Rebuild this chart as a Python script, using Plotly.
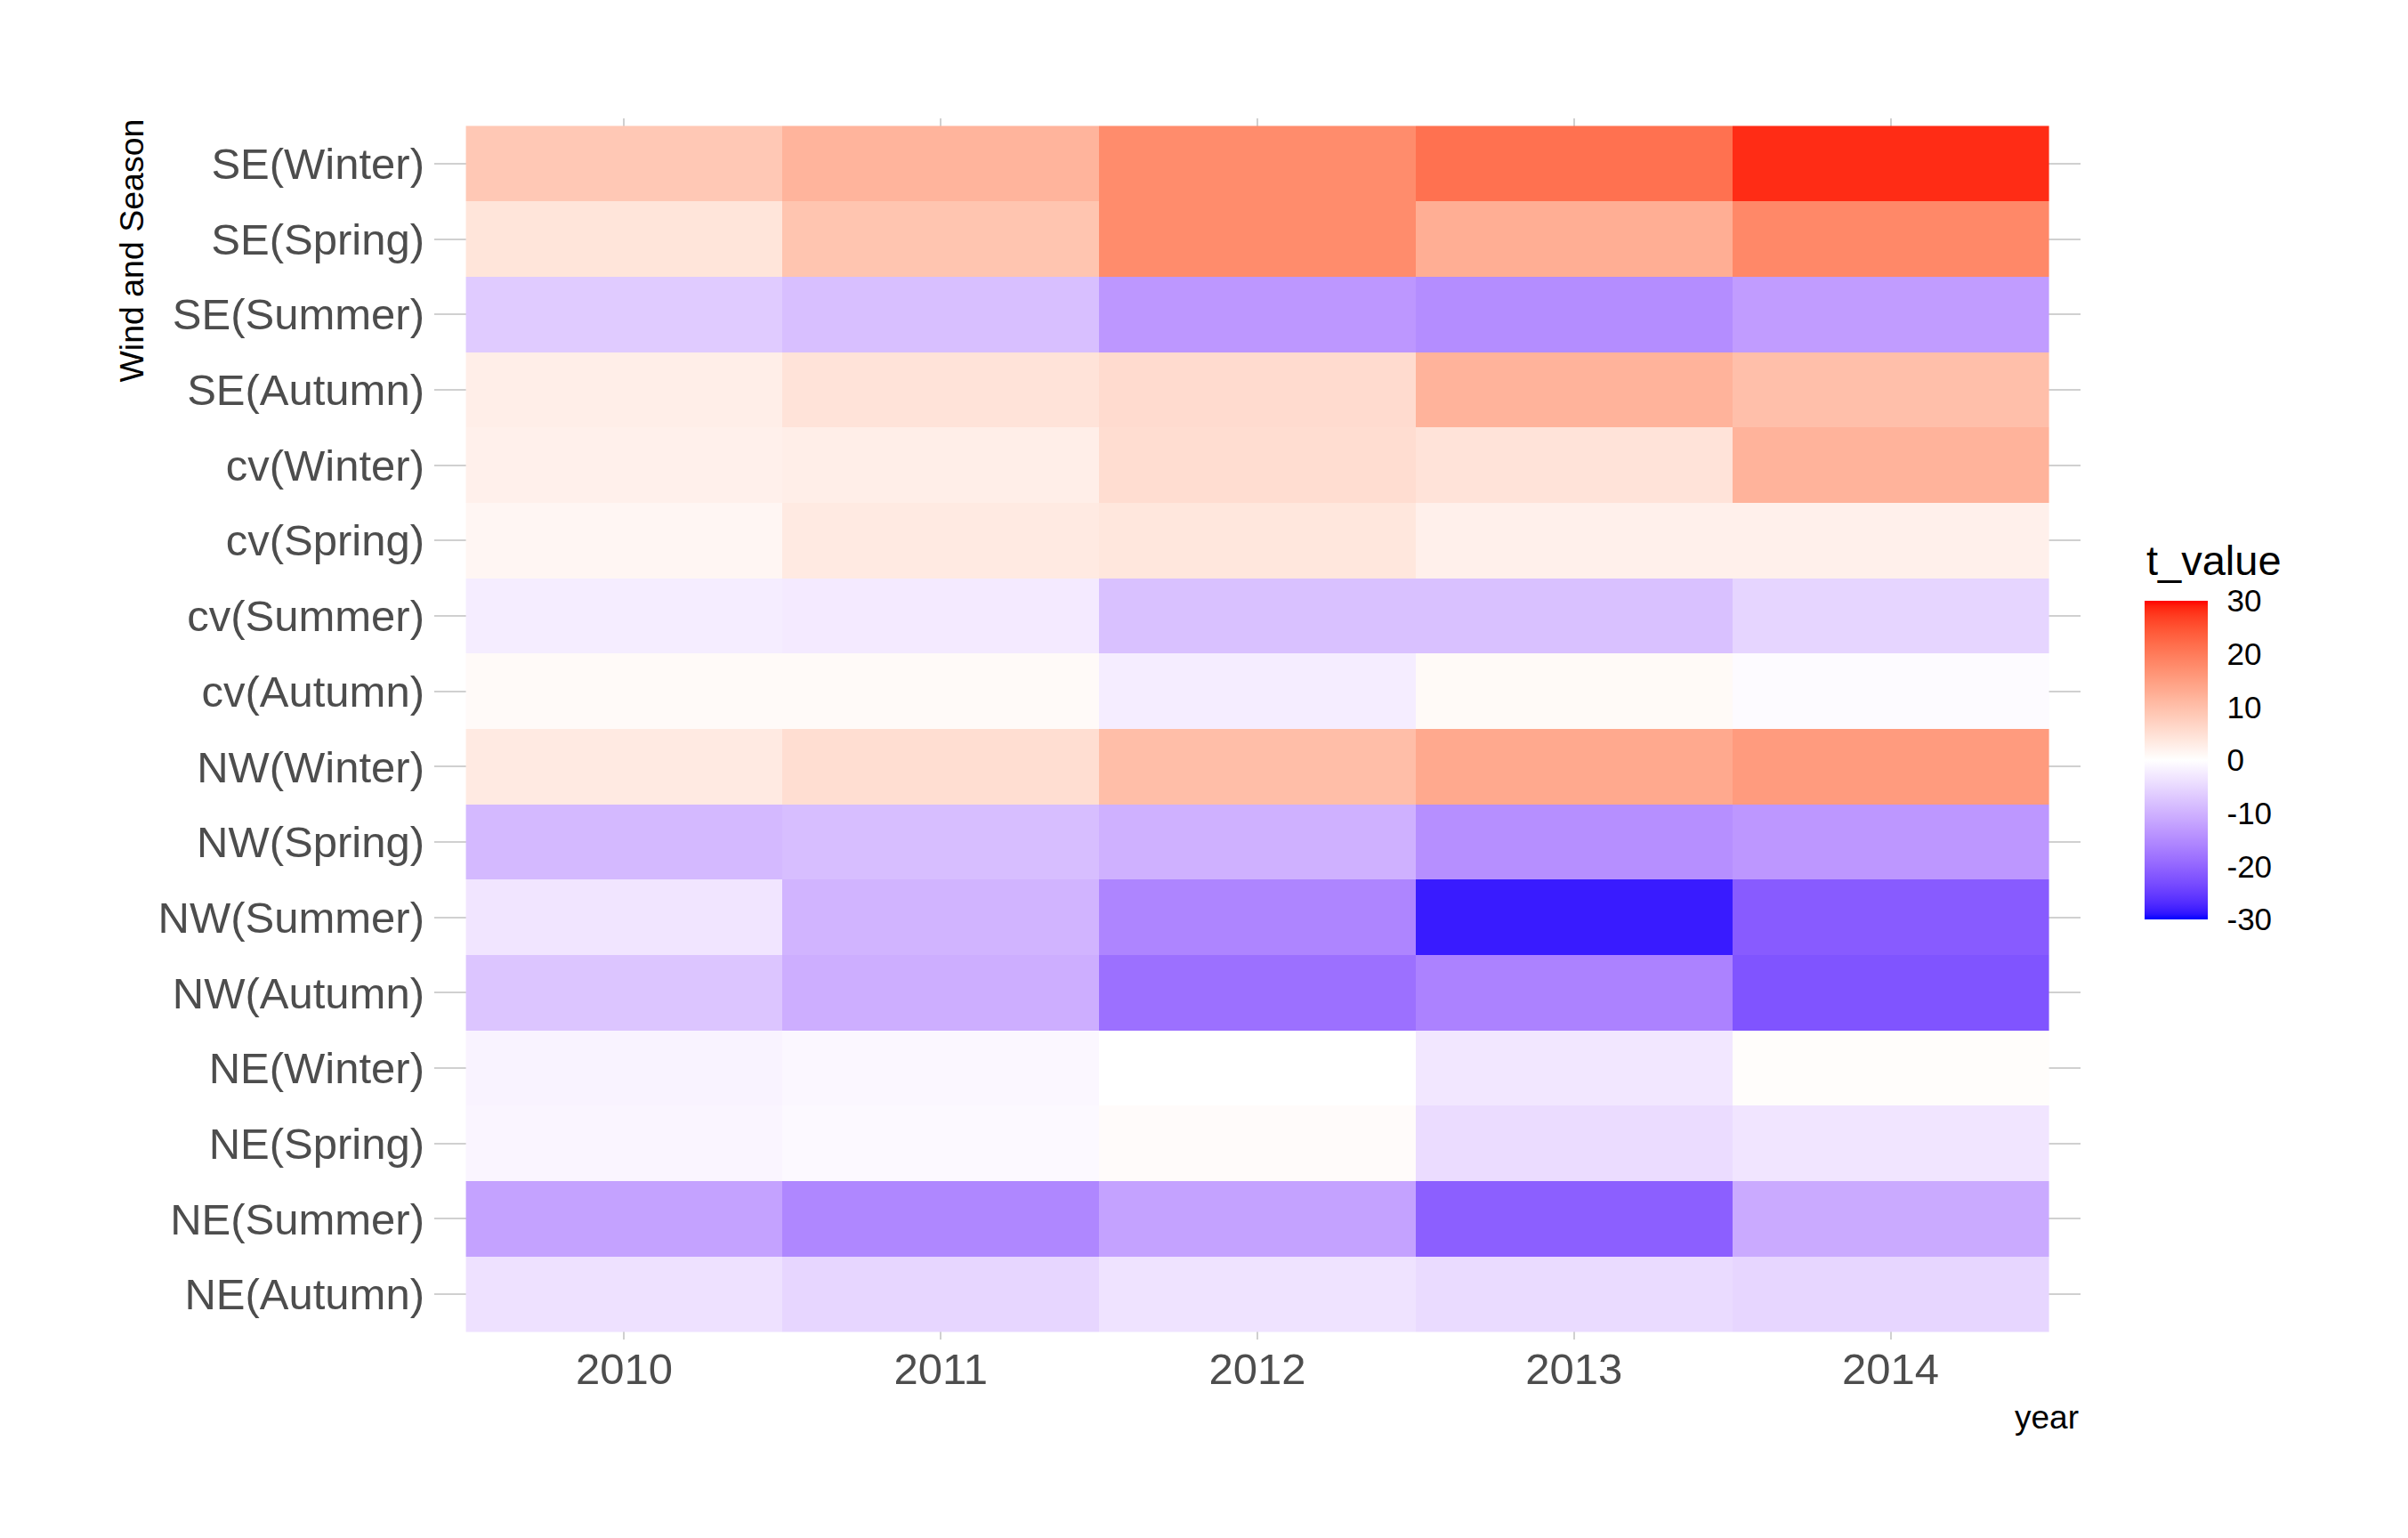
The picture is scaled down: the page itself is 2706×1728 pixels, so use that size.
import plotly.graph_objects as go

years = ["2010", "2011", "2012", "2013", "2014"]
categories = [
    "SE(Winter)", "SE(Spring)", "SE(Summer)", "SE(Autumn)",
    "cv(Winter)", "cv(Spring)", "cv(Summer)", "cv(Autumn)",
    "NW(Winter)", "NW(Spring)", "NW(Summer)", "NW(Autumn)",
    "NE(Winter)", "NE(Spring)", "NE(Summer)", "NE(Autumn)",
]
t_se_winter = [8.6, 11.7, 17.6, 21.3, 28.3]
t_se_spring = [4.2, 9.2, 17.6, 12.6, 18.1]
t_se_summer = [-6.6, -8.2, -13.4, -14.8, -12.7]
t_se_autumn = [2.7, 4.4, 5.6, 11.8, 10.0]
t_cv_winter = [2.3, 2.7, 5.3, 4.4, 11.8]
t_cv_spring = [1.4, 3.3, 3.9, 2.3, 2.3]
t_cv_summer = [-2.2, -2.6, -8.0, -8.0, -5.4]
t_cv_autumn = [0.8, 0.8, -2.2, 0.9, -0.5]
t_nw_winter = [3.3, 5.2, 10.2, 13.4, 15.4]
t_nw_spring = [-9.0, -8.4, -10.0, -14.5, -13.4]
t_nw_summer = [-3.3, -9.6, -15.8, -28.4, -21.2]
t_nw_autumn = [-7.4, -10.4, -18.6, -16.2, -22.2]
t_ne_winter = [-1.5, -1.0, 0.0, -3.0, 0.4]
t_ne_spring = [-1.3, -0.8, 0.6, -4.5, -3.3]
t_ne_summer = [-12.0, -15.6, -12.0, -20.8, -11.0]
t_ne_autumn = [-3.8, -5.2, -3.6, -4.6, -5.2]

z = [
    t_se_winter, t_se_spring, t_se_summer, t_se_autumn,
    t_cv_winter, t_cv_spring, t_cv_summer, t_cv_autumn,
    t_nw_winter, t_nw_spring, t_nw_summer, t_nw_autumn,
    t_ne_winter, t_ne_spring, t_ne_summer, t_ne_autumn,
]
colorbar_ticks = [-30, -20, -10, 0, 10, 20, 30]

# ---- diverging blue-white-red gradient interpolated in CIE Lab (like ggplot2 gradient2)
def srgb_to_lab(rgb):
    def lin(c):
        c = c / 255.0
        return c / 12.92 if c <= 0.04045 else ((c + 0.055) / 1.055) ** 2.4
    r, g, b = (lin(c) for c in rgb)
    X = 0.4124 * r + 0.3576 * g + 0.1805 * b
    Y = 0.2126 * r + 0.7152 * g + 0.0722 * b
    Z = 0.0193 * r + 0.1192 * g + 0.9505 * b
    Xn, Yn, Zn = 0.95047, 1.0, 1.08883
    def f(t):
        return t ** (1 / 3) if t > 0.008856 else 7.787 * t + 16 / 116
    fx, fy, fz = f(X / Xn), f(Y / Yn), f(Z / Zn)
    return (116 * fy - 16, 500 * (fx - fy), 200 * (fy - fz))

def lab_to_srgb(lab):
    L, a, b = lab
    fy = (L + 16) / 116
    fx = fy + a / 500
    fz = fy - b / 200
    def finv(t):
        return t ** 3 if t ** 3 > 0.008856 else (t - 16 / 116) / 7.787
    X, Y, Z = 0.95047 * finv(fx), finv(fy), 1.08883 * finv(fz)
    r = 3.2406 * X - 1.5372 * Y - 0.4986 * Z
    g = -0.9689 * X + 1.8758 * Y + 0.0415 * Z
    bb = 0.0557 * X - 0.2040 * Y + 1.0570 * Z
    def gam(c):
        c = min(max(c, 0.0), 1.0)
        return 12.92 * c if c <= 0.0031308 else 1.055 * c ** (1 / 2.4) - 0.055
    return tuple(int(round(gam(c) * 255)) for c in (r, g, bb))

low, mid, high = srgb_to_lab((0, 0, 255)), srgb_to_lab((255, 255, 255)), srgb_to_lab((255, 0, 0))
n = 60
colorscale = []
for i in range(n + 1):
    s = i / n
    if s <= 0.5:
        u = s / 0.5
        lab = tuple(low[k] + (mid[k] - low[k]) * u for k in range(3))
    else:
        u = (s - 0.5) / 0.5
        lab = tuple(mid[k] + (high[k] - mid[k]) * u for k in range(3))
    r, g, b = lab_to_srgb(lab)
    colorscale.append([s, f"rgb({r},{g},{b})"])

font_family = "Liberation Sans, Arial, sans-serif"

fig = go.Figure(
    go.Heatmap(
        x=years,
        y=categories,
        z=z,
        zmin=-30,
        zmax=30,
        colorscale=colorscale,
        xgap=0,
        ygap=0,
        colorbar=dict(
            tickvals=colorbar_ticks,
            ticktext=[str(v) for v in colorbar_ticks],
            tickfont=dict(size=35, color="black", family=font_family),
            ticks="outside",
            ticklen=15,
            tickcolor="rgba(0,0,0,0)",
            thickness=71,
            thicknessmode="pixels",
            len=358,
            lenmode="pixels",
            x=1.0389,
            xanchor="left",
            y=0.344,
            yanchor="bottom",
            xpad=0,
            ypad=0,
            outlinewidth=0,
        ),
    )
)

fig.update_layout(
    width=2706,
    height=1728,
    margin=dict(l=480, r=376, t=125, b=231),
    paper_bgcolor="white",
    plot_bgcolor="white",
    font=dict(family=font_family),
    xaxis=dict(
        type="category",
        range=[-0.6, 4.6],
        showgrid=True,
        gridcolor="#D0D0D0",
        gridwidth=1.5,
        zeroline=False,
        showline=False,
        ticks="",
        tickfont=dict(size=49, color="#4D4D4D", family=font_family),
        ticklabelstandoff=0,
    ),
    yaxis=dict(
        type="category",
        range=[15.6, -0.6],
        showgrid=True,
        gridcolor="#D0D0D0",
        gridwidth=1.5,
        zeroline=False,
        showline=False,
        ticks="",
        tickfont=dict(size=49, color="#4D4D4D", family=font_family),
        ticklabelstandoff=10,
    ),
    annotations=[
        dict(
            text="year", xref="paper", yref="paper", x=1.0, y=-0.064,
            xanchor="right", yanchor="middle", showarrow=False,
            font=dict(size=37, color="black", family=font_family),
        ),
        dict(
            text="Wind and Season", xref="paper", yref="paper", x=-0.184, y=0.8914,
            xanchor="center", yanchor="middle", showarrow=False, textangle=-90,
            font=dict(size=37.5, color="black", family=font_family),
        ),
        dict(
            text="t_value", xref="paper", yref="paper", x=1.0389, y=0.6378,
            xanchor="left", yanchor="middle", showarrow=False,
            font=dict(size=47, color="black", family=font_family),
        ),
    ],
)

fig.write_html("out.html")
